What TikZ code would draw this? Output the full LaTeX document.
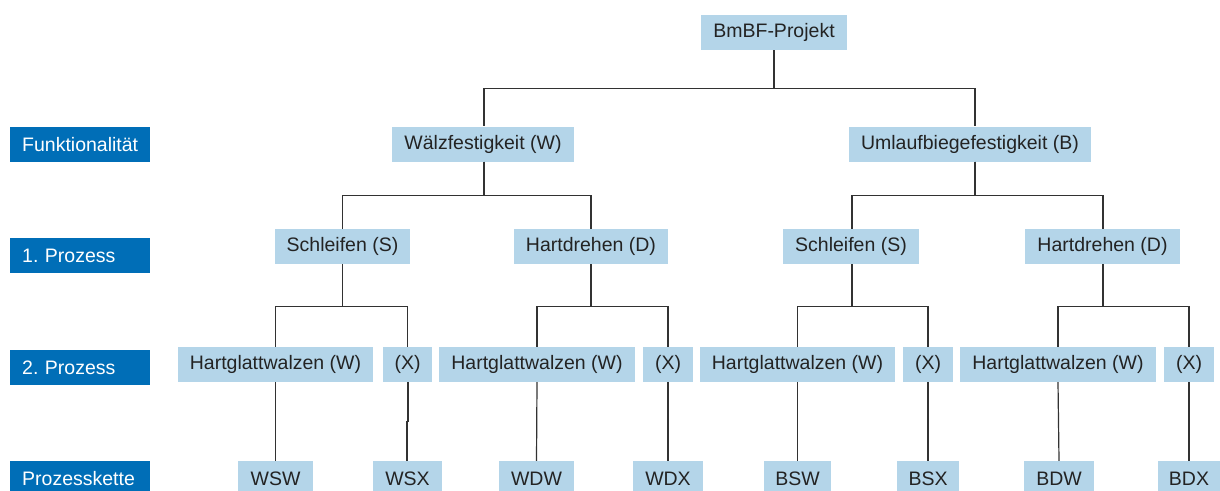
\documentclass[tikz,border=0pt]{standalone}
\usepackage{fontspec}
\setmainfont{Liberation Sans}
\frenchspacing
\definecolor{labblue}{RGB}{0,110,183}
\definecolor{nodeblue}{RGB}{180,213,233}
\definecolor{linegray}{RGB}{50,50,50}
\definecolor{textgray}{RGB}{35,35,35}
\begin{document}
\begin{tikzpicture}[x=1pt,y=-1pt,
  every node/.style={font=\fontsize{19.5}{23}\selectfont},
  lab/.style={fill=labblue,text=white,anchor=north west,inner xsep=12pt,inner ysep=0pt,
    text width=116pt,align=left,minimum height=35pt},
  box/.style={fill=nodeblue,text=textgray,inner sep=0pt,minimum height=35pt,minimum width=#1},
  conn/.style={draw=linegray,line width=1.2pt}]
\useasboundingbox (0,0) rectangle (1220,490);
\begin{scope}
\clip (0,0) rectangle (1220,490);
% level labels
\node[lab] (lF) at (10,127) {Funktionalität};
\node[lab] (l1) at (10,238) {1.\ Prozess};
\node[lab] (l2) at (10,350) {2.\ Prozess};
\node[lab] (lK) at (10,461) {Prozesskette};
% root
\node[box=146pt] (top) at (774,32.5) {BmBF-Projekt};
% function level
\node[box=182pt] (W) at (483,144) {Wälzfestigkeit (W)};
\node[box=242pt] (B) at (970,144) {Umlaufbiegefestigkeit (B)};
% first process
\node[box=135pt] (WS) at (342.5,246.5) {Schleifen (S)};
\node[box=154pt] (WD) at (591,246.5) {Hartdrehen (D)};
\node[box=136pt] (BS) at (851,246.5) {Schleifen (S)};
\node[box=155pt] (BD) at (1102.5,246.5) {Hartdrehen (D)};
% second process
\node[box=195pt] (WSW2) at (275.5,364.5) {Hartglattwalzen (W)};
\node[box=49pt]  (WSX2) at (407.5,364.5) {(X)};
\node[box=196pt] (WDW2) at (537,364.5) {Hartglattwalzen (W)};
\node[box=50pt]  (WDX2) at (668,364.5) {(X)};
\node[box=195pt] (BSW2) at (797.5,364.5) {Hartglattwalzen (W)};
\node[box=50pt]  (BSX2) at (928,364.5) {(X)};
\node[box=196pt] (BDW2) at (1058,364.5) {Hartglattwalzen (W)};
\node[box=50pt]  (BDX2) at (1189,364.5) {(X)};
% process chains
\node[box=75pt] (WSW) at (275.5,478.5) {WSW};
\node[box=69pt] (WSX) at (407.5,478.5) {WSX};
\node[box=75pt] (WDW) at (536.5,478.5) {WDW};
\node[box=70pt] (WDX) at (668,478.5) {WDX};
\node[box=67pt] (BSW) at (797.5,478.5) {BSW};
\node[box=62pt] (BSX) at (928,478.5) {BSX};
\node[box=70pt] (BDW) at (1059,478.5) {BDW};
\node[box=62pt] (BDX) at (1189,478.5) {BDX};
\end{scope}
% connectors
\draw[conn] (top.south) -- ++(0,38) -| ([xshift=1pt]W.north);
\draw[conn] (top.south) -- ++(0,38) -| ([xshift=5pt]B.north);
\draw[conn] ([xshift=1pt]W.south) -- ++(0,33.5) -| (WS.north);
\draw[conn] ([xshift=1pt]W.south) -- ++(0,33.5) -| (WD.north);
\draw[conn] ([xshift=5pt]B.south) -- ++(0,33.5) -| ([xshift=1pt]BS.north);
\draw[conn] ([xshift=5pt]B.south) -- ++(0,33.5) -| ([xshift=0.5pt]BD.north);
\draw[conn] (WS.south) -- ++(0,42) -| (WSW2.north);
\draw[conn] (WS.south) -- ++(0,42) -| (WSX2.north);
\draw[conn] (WD.south) -- ++(0,42) -| (WDW2.north);
\draw[conn] (WD.south) -- ++(0,42) -| (WDX2.north);
\draw[conn] ([xshift=1pt]BS.south) -- ++(0,42) -| (BSW2.north);
\draw[conn] ([xshift=1pt]BS.south) -- ++(0,42) -| (BSX2.north);
\draw[conn] ([xshift=0.5pt]BD.south) -- ++(0,42) -| (BDW2.north);
\draw[conn] ([xshift=0.5pt]BD.south) -- ++(0,42) -| (BDX2.north);
\draw[conn] (WSW2.south) -- (WSW.north);
\draw[conn] ([xshift=0.5pt]WSX2.south) -- ++(0,39) -| ([xshift=-0.5pt]WSX.north);
\draw[conn] (WDW2.south) -- (WDW.north);
\draw[conn] (WDX2.south) -- (WDX.north);
\draw[conn] (BSW2.south) -- (BSW.north);
\draw[conn] (BSX2.south) -- (BSX.north);
\draw[conn] (BDW2.south) -- (BDW.north);
\draw[conn] (BDX2.south) -- (BDX.north);
\end{tikzpicture}
\end{document}
